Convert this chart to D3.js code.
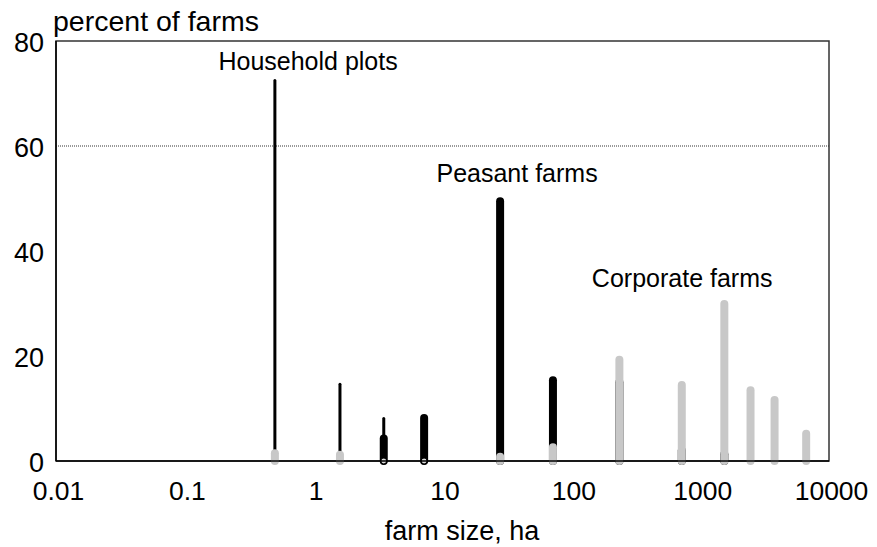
<!DOCTYPE html>
<html>
<head>
<meta charset="utf-8">
<script src="https://cdn.jsdelivr.net/npm/d3@7"></script>
<style>
  html, body { margin: 0; padding: 0; background: #fff; }
  svg { display: block; font-family: "Liberation Sans", Arial, sans-serif; }
</style>
</head>
<body>
<svg id="chart" width="877" height="547"></svg>
<script>
// ---- data ----
const sizes = [0.5, 1.6, 3.5, 7.2, 28, 72, 236, 720, 1540, 2460, 3780, 6650];
const household = [72.5, 14.6, 8.1, null, null, null, null, null, null, null, null, null];
const peasant = [null, null, 4.3, 8.2, 49.5, 15.4, 15.0, 2.0, 1.3, null, null, null];
const corporate = [1.5, 1.2, 0, 0, 0.8, 2.6, 19.3, 14.5, 29.9, 13.5, 11.6, 5.2];
const xTicks = [0.01, 0.1, 1, 10, 100, 1000, 10000];
const xTickLabels = ["0.01", "0.1", "1", "10", "100", "1000", "10000"];
const yTicks = [0, 20, 40, 60, 80];
const gridValues = [60];
const labelTexts = ["Household plots", "Peasant farms", "Corporate farms"];
const labelSizes = [0.905, 37.9, 725];
const labelValues = [74.5, 53.2, 33.2];

(function () {
const svg = d3.select("#chart");
const pL = 56, pR = 829, pT = 41, pB = 461;
const x = d3.scaleLog().domain([0.01, 10000]).range([pL, pR]);
const y = d3.scaleLinear().domain([0, 80]).range([pB, pT]);

// gridline
svg.selectAll("line.grid").data(gridValues).join("line")
  .attr("class", "grid")
  .attr("x1", pL).attr("x2", pR)
  .attr("y1", d => y(d)).attr("y2", d => y(d))
  .attr("stroke", "#333").attr("stroke-width", 1)
  .attr("stroke-dasharray", "1,1");

// frame (top/right)
svg.append("rect")
  .attr("x", pL).attr("y", pT)
  .attr("width", pR - pL).attr("height", pB - pT)
  .attr("fill", "none").attr("stroke", "#333").attr("stroke-width", 1.5);

function drawSeries(vals, cls, color, width) {
  const data = sizes.map((s, i) => ({ s, v: vals[i] })).filter(d => d.v !== null);
  svg.selectAll("line." + cls).data(data.filter(d => d.v > 0)).join("line")
    .attr("class", cls)
    .attr("x1", d => x(d.s)).attr("x2", d => x(d.s))
    .attr("y1", y(0)).attr("y2", d => y(d.v))
    .attr("stroke", color).attr("stroke-width", width)
    .attr("stroke-linecap", "round");
  svg.selectAll("circle." + cls).data(data.filter(d => d.v === 0)).join("circle")
    .attr("class", cls)
    .attr("cx", d => x(d.s)).attr("cy", y(0))
    .attr("r", width / 2 - 1)
    .attr("fill", "#ddd").attr("stroke", "#000").attr("stroke-width", 1.2);
}
drawSeries(household, "hh", "#000", 3);
drawSeries(peasant, "pe", "#000", 8);
drawSeries(corporate, "co", "#c8c8c8", 8);

// left & bottom axis lines
svg.append("line").attr("x1", pL).attr("x2", pL).attr("y1", pT).attr("y2", pB)
  .attr("stroke", "#000").attr("stroke-width", 1.5);
svg.append("line").attr("x1", pL).attr("x2", pR).attr("y1", pB).attr("y2", pB)
  .attr("stroke", "#000").attr("stroke-width", 1.5);

// x axis labels
const xAxis = d3.axisBottom(x).tickValues(xTicks)
  .tickFormat((d, i) => xTickLabels[i]).tickSize(0).tickPadding(0);
const gx = svg.append("g").attr("transform", `translate(2,${pB + 20})`).call(xAxis);
gx.select(".domain").remove();
gx.selectAll("text").attr("font-size", 26.5).attr("font-family", "Liberation Sans, Arial, sans-serif")
  .attr("fill", "#000").attr("dy", "0.71em");

// y axis labels
const yAxis = d3.axisLeft(y).tickValues(yTicks).tickFormat(d3.format("d")).tickSize(0).tickPadding(0);
const gy = svg.append("g").attr("transform", `translate(${pL - 12},2)`).call(yAxis);
gy.select(".domain").remove();
gy.selectAll("text").attr("font-size", 27).attr("font-family", "Liberation Sans, Arial, sans-serif")
  .attr("fill", "#000");

// axis titles
svg.append("text").attr("x", 53).attr("y", 31).attr("font-size", 28.5).text("percent of farms");
svg.append("text").attr("x", 462).attr("y", 540).attr("text-anchor", "middle")
  .attr("font-size", 27).text("farm size, ha");

// series labels
svg.selectAll("text.lab").data(labelTexts).join("text")
  .attr("class", "lab")
  .attr("x", (d, i) => x(labelSizes[i]))
  .attr("y", (d, i) => y(labelValues[i]))
  .attr("text-anchor", "middle").attr("font-size", 25)
  .text(d => d);
})();
</script>
</body>
</html>
